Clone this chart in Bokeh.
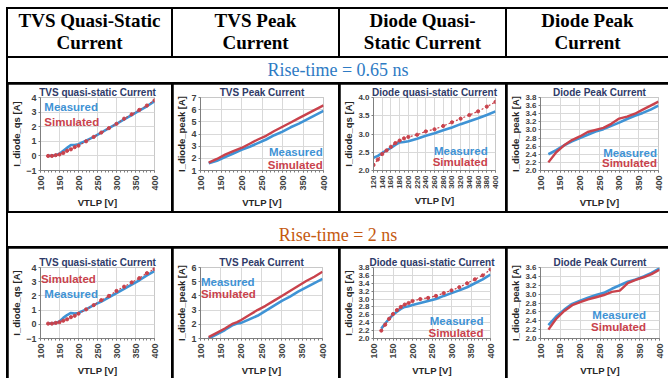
import numpy as np
from bokeh.plotting import figure
from bokeh.layouts import row, column
from bokeh.models import Div, FixedTicker, Label, NumeralTickFormatter, Range1d
from bokeh.embed import file_html
from bokeh.resources import INLINE

# ---------------- data ----------------
header_labels = ["TVS Quasi-Static<br>Current", "TVS Peak<br>Current",
                 "Diode Quasi-<br>Static Current", "Diode Peak<br>Current"]
rise_labels = ["Rise-time = 0.65 ns", "Rise-time = 2 ns"]
chart_titles = ["TVS quasi-static Current", "TVS Peak Current",
                "Diode quasi-static Current", "Diode Peak Current"]
y_labels = ["I_diode_qs [A]", "I_diode_peak [A]", "I_diode_qs [A]", "I_diode_peak [A]"]
x_label = "VTLP [V]"
series_names = ["Measured", "Simulated"]

xt_50 = [100, 150, 200, 250, 300, 350, 400]
xt_20 = [120, 140, 160, 180, 200, 220, 240, 260, 280, 300, 320, 340, 360, 380, 400]
yt_qs_tvs = [-1, 0, 1, 2, 3, 4]
yt_pk_tvs_065 = [1, 2, 3, 4, 5, 6, 7]
yt_pk_tvs_2 = [1, 2, 3, 4, 5, 6]
yt_dqs_065 = [2.0, 2.5, 3.0, 3.5, 4.0]
yt_d_38 = [2.0, 2.2, 2.4, 2.6, 2.8, 3.0, 3.2, 3.4, 3.6, 3.8]
yt_d_36 = [2.0, 2.2, 2.4, 2.6, 2.8, 3.0, 3.2, 3.4, 3.6]

# rise time 0.65 ns
v_tvs_qs = [120, 130, 140, 150, 160, 170, 180, 190, 200, 220, 240, 260, 280, 300, 320, 340, 360, 380, 400]
tvs_qs_meas_065 = [0.0, 0.02, 0.05, 0.15, 0.35, 0.55, 0.75, 0.75, 0.8, 1.05, 1.3, 1.6, 1.9, 2.2, 2.5, 2.8, 3.1, 3.4, 3.75]
tvs_qs_sim_065 = [0.0, 0.0, 0.05, 0.1, 0.2, 0.35, 0.45, 0.6, 0.7, 1.0, 1.3, 1.6, 1.9, 2.2, 2.55, 2.85, 3.15, 3.45, 3.8]

v_tvs_pk = [120, 140, 160, 180, 200, 220, 240, 260, 280, 300, 320, 340, 360, 380, 400]
tvs_pk_meas_065 = [1.6, 1.8, 2.1, 2.4, 2.7, 2.95, 3.25, 3.55, 3.9, 4.2, 4.55, 4.85, 5.2, 5.55, 5.9]
tvs_pk_sim_065 = [1.65, 1.95, 2.3, 2.6, 2.85, 3.2, 3.55, 3.85, 4.25, 4.6, 4.95, 5.3, 5.65, 6.0, 6.35]

v_d_qs = [120, 130, 140, 150, 160, 170, 180, 190, 200, 220, 240, 260, 280, 300, 320, 340, 360, 380, 400]
d_qs_meas_065 = [2.35, 2.4, 2.48, 2.55, 2.62, 2.7, 2.77, 2.78, 2.8, 2.87, 2.95, 3.02, 3.1, 3.18, 3.27, 3.35, 3.43, 3.52, 3.62]
d_qs_sim_065 = [2.15, 2.3, 2.45, 2.55, 2.65, 2.75, 2.82, 2.88, 2.92, 2.98, 3.07, 3.13, 3.22, 3.32, 3.42, 3.52, 3.62, 3.75, 3.88]

v_d_pk = [120, 140, 160, 180, 200, 220, 240, 260, 280, 300, 320, 340, 360, 380, 400]
d_pk_meas_065 = [2.4, 2.5, 2.62, 2.72, 2.8, 2.88, 2.96, 3.02, 3.1, 3.18, 3.27, 3.35, 3.42, 3.5, 3.6]
d_pk_sim_065 = [2.2, 2.45, 2.62, 2.75, 2.84, 2.95, 3.0, 3.05, 3.15, 3.28, 3.33, 3.4, 3.5, 3.6, 3.7]

# rise time 2 ns
tvs_qs_meas_2 = [0.05, 0.05, 0.1, 0.2, 0.45, 0.65, 0.8, 0.75, 0.8, 1.05, 1.35, 1.6, 1.9, 2.2, 2.5, 2.8, 3.1, 3.45, 3.75]
tvs_qs_sim_2 = [0.05, 0.05, 0.1, 0.15, 0.25, 0.35, 0.5, 0.6, 0.75, 1.05, 1.35, 1.7, 2.0, 2.35, 2.65, 2.95, 3.25, 3.6, 3.9]

v_tvs_pk_2 = [120, 140, 160, 180, 190, 200, 220, 240, 260, 280, 300, 320, 340, 360, 380, 400]
tvs_pk_meas_2 = [1.0, 1.3, 1.6, 1.95, 2.05, 2.1, 2.35, 2.6, 2.95, 3.3, 3.65, 3.95, 4.3, 4.6, 4.9, 5.2]
tvs_pk_sim_2 = [1.1, 1.4, 1.7, 2.05, 2.15, 2.3, 2.65, 3.0, 3.3, 3.65, 4.0, 4.35, 4.7, 5.05, 5.35, 5.7]

d_qs_meas_2 = [2.25, 2.38, 2.5, 2.6, 2.68, 2.75, 2.8, 2.82, 2.85, 2.9, 2.95, 3.0, 3.08, 3.15, 3.22, 3.3, 3.4, 3.5, 3.62]
d_qs_sim_2 = [2.2, 2.35, 2.5, 2.62, 2.72, 2.8, 2.86, 2.9, 2.95, 3.0, 3.03, 3.08, 3.15, 3.22, 3.3, 3.4, 3.5, 3.6, 3.75]

d_pk_meas_2 = [2.3, 2.5, 2.65, 2.78, 2.85, 2.92, 2.98, 3.03, 3.12, 3.2, 3.28, 3.33, 3.4, 3.48, 3.58]
d_pk_sim_2 = [2.2, 2.45, 2.62, 2.75, 2.82, 2.88, 2.93, 2.98, 3.05, 3.08, 3.25, 3.32, 3.38, 3.45, 3.55]

# ---------------- style ----------------
BLUE = "#3f93d5"
RED = "#c9424c"
TITLE_C = "#2e3a68"
AX_C = "#404040"
FONT = "Liberation Sans"

col_w = [163, 165, 165, 161]
row_h = [127, 130]


def make_chart(i, w, h, xm, ym, xs, ys, xr, yr, xt, yt, yfmt, dotted,
               borders, leg, yfs="9px", xfs="9px"):
    l, r, t, b = borders
    p = figure(width=w, height=h, output_backend="svg", toolbar_location=None,
               x_range=Range1d(*xr), y_range=Range1d(*yr),
               min_border_left=l, min_border_right=r, min_border_top=t,
               min_border_bottom=b, margin=0,
               background_fill_color="white", border_fill_color="white",
               outline_line_color="#c8c8c8")
    p.title.text = chart_titles[i]
    p.title.text_font = FONT
    p.title.text_font_size = "10px"
    p.title.text_color = TITLE_C
    p.title.align = "center"
    p.title.standoff = 0
    p.title.offset = 0

    p.xaxis.ticker = FixedTicker(ticks=xt, minor_ticks=list(range(xr[0], xr[1] + 1, 10)))
    p.yaxis.ticker = FixedTicker(ticks=yt)
    if yfmt:
        p.yaxis.formatter = NumeralTickFormatter(format=yfmt)
    p.xaxis.major_label_orientation = np.pi / 2
    for ax in (p.xaxis[0], p.yaxis[0]):
        ax.major_label_text_font = FONT
        ax.major_label_text_font_style = "bold"
        ax.major_label_text_color = AX_C
        ax.axis_label_text_font = FONT
        ax.axis_label_text_font_style = "bold"
        ax.axis_label_text_font_size = "9.5px"
        ax.axis_label_text_color = "#262626"
        ax.axis_line_color = "#7f7f7f"
        ax.major_tick_line_color = "#7f7f7f"
        ax.major_tick_out = 2
        ax.major_tick_in = 0
        ax.minor_tick_out = 2
        ax.minor_tick_in = 0
        ax.minor_tick_line_color = "#7f7f7f"
    p.xaxis.major_label_text_font_size = xfs
    p.yaxis.major_label_text_font_size = yfs
    p.xaxis.major_label_standoff = 3
    p.xaxis.axis_label_standoff = 3
    p.yaxis.major_label_standoff = 2
    p.yaxis.axis_label_standoff = 1
    p.yaxis.minor_tick_line_color = None
    p.xaxis.axis_label = x_label
    p.yaxis.axis_label = y_labels[i]
    p.grid.grid_line_color = "#d9d9d9"
    p.grid.grid_line_width = 1

    p.line(xm, ym, line_color=BLUE, line_width=2.6)
    if dotted:
        p.line(xs, ys, line_color=RED, line_width=1.2, line_dash="2 2")
        p.scatter(xs, ys, size=3.2, fill_color=RED, line_color=RED)
    else:
        p.line(xs, ys, line_color=RED, line_width=2.4)

    (mx, my), (sx, sy), align = leg
    p.add_layout(Label(x=mx, y=my, text=series_names[0], text_align=align,
                       text_baseline="middle", text_font=FONT,
                       text_font_size="11.5px", text_font_style="bold",
                       text_color=BLUE))
    p.add_layout(Label(x=sx, y=sy, text=series_names[1], text_align=align,
                       text_baseline="middle", text_font=FONT,
                       text_font_size="11.5px", text_font_style="bold",
                       text_color=RED))
    return p


charts1 = [
    make_chart(0, col_w[0], row_h[0], v_tvs_qs, tvs_qs_meas_065, v_tvs_qs, tvs_qs_sim_065,
               (100, 400), (-1, 4), xt_50, yt_qs_tvs, None, True,
               (25, 17, 12, 37), ((110, 3.35), (110, 2.35), "left")),
    make_chart(1, col_w[1], row_h[0], v_tvs_pk, tvs_pk_meas_065, v_tvs_pk, tvs_pk_sim_065,
               (100, 400), (1, 7), xt_50, yt_pk_tvs_065, None, False,
               (23, 15, 9, 33), ((398, 2.5), (398, 1.45), "right")),
    make_chart(2, col_w[2], row_h[0], v_d_qs, d_qs_meas_065, v_d_qs, d_qs_sim_065,
               (120, 400), (2, 4), xt_20, yt_dqs_065, "0.0", True,
               (27, 10, 12, 41), ((382, 2.54), (382, 2.24), "right"), "8px", "8px"),
    make_chart(3, col_w[3], row_h[0], v_d_pk, d_pk_meas_065, v_d_pk, d_pk_sim_065,
               (100, 400), (2, 3.8), xt_50, yt_d_38, "0.0", False,
               (29, 10, 11, 41), ((396, 2.42), (396, 2.18), "right"), "8px"),
]
charts2 = [
    make_chart(0, col_w[0], row_h[1], v_tvs_qs, tvs_qs_meas_2, v_tvs_qs, tvs_qs_sim_2,
               (100, 400), (-1, 4), xt_50, yt_qs_tvs, None, True,
               (25, 17, 14, 38), ((110, 2.15), (101, 3.2), "left")),
    make_chart(1, col_w[1], row_h[1], v_tvs_pk_2, tvs_pk_meas_2, v_tvs_pk_2, tvs_pk_sim_2,
               (100, 400), (1, 6), xt_50, yt_pk_tvs_2, None, False,
               (23, 16, 15, 37), ((101, 5.0), (101, 4.15), "left")),
    make_chart(2, col_w[2], row_h[1], v_d_qs, d_qs_meas_2, v_d_qs, d_qs_sim_2,
               (100, 400), (2, 3.8), xt_50, yt_d_38, "0.0", True,
               (26, 15, 12, 40), ((382, 2.44), (382, 2.14), "right"), "8px"),
    make_chart(3, col_w[3], row_h[1], v_d_pk, d_pk_meas_2, v_d_pk, d_pk_sim_2,
               (100, 400), (2, 3.6), xt_50, yt_d_36, "0.0", False,
               (30, 9, 19, 37), ((366, 2.54), (366, 2.26), "right"), "8px"),
]


def header_div(text, w):
    html = ('<div style="width:%dpx;text-align:center;font-family:\'Liberation Serif\';'
            'font-weight:bold;font-size:19px;line-height:22px;color:#000;padding-top:1px">%s</div>'
            % (w, text))
    return Div(text=html, width=w, height=47, margin=0,
               styles={"background-color": "white"})


def rise_div(text, color, h, pad):
    html = ('<div style="width:660px;text-align:center;font-family:\'Liberation Serif\';'
            'font-size:18px;line-height:24px;color:%s;padding-top:%dpx">%s</div>'
            % (color, pad, text))
    return Div(text=html, width=660, height=h, margin=0,
               styles={"background-color": "white"})


bg = {"background-color": "black"}
header_row = row([header_div(t, w) for t, w in zip(header_labels, col_w)],
                 spacing=2, margin=0, styles=bg)
row1 = row(charts1, spacing=2, margin=0, styles=bg)
row2 = row(charts2, spacing=2, margin=0, styles=bg)
inner = column([header_row, rise_div(rise_labels[0], "#2e7bc4", 24, 0), row1,
                rise_div(rise_labels[1], "#c55a11", 33, 10), row2],
               spacing=2, margin=(2, 0, 0, 2), styles=bg)
table = column([inner], margin=0, styles=bg)
page = column([table], margin=(7, 0, 0, 6))

open("out.html", "w").write(file_html(page, INLINE))
